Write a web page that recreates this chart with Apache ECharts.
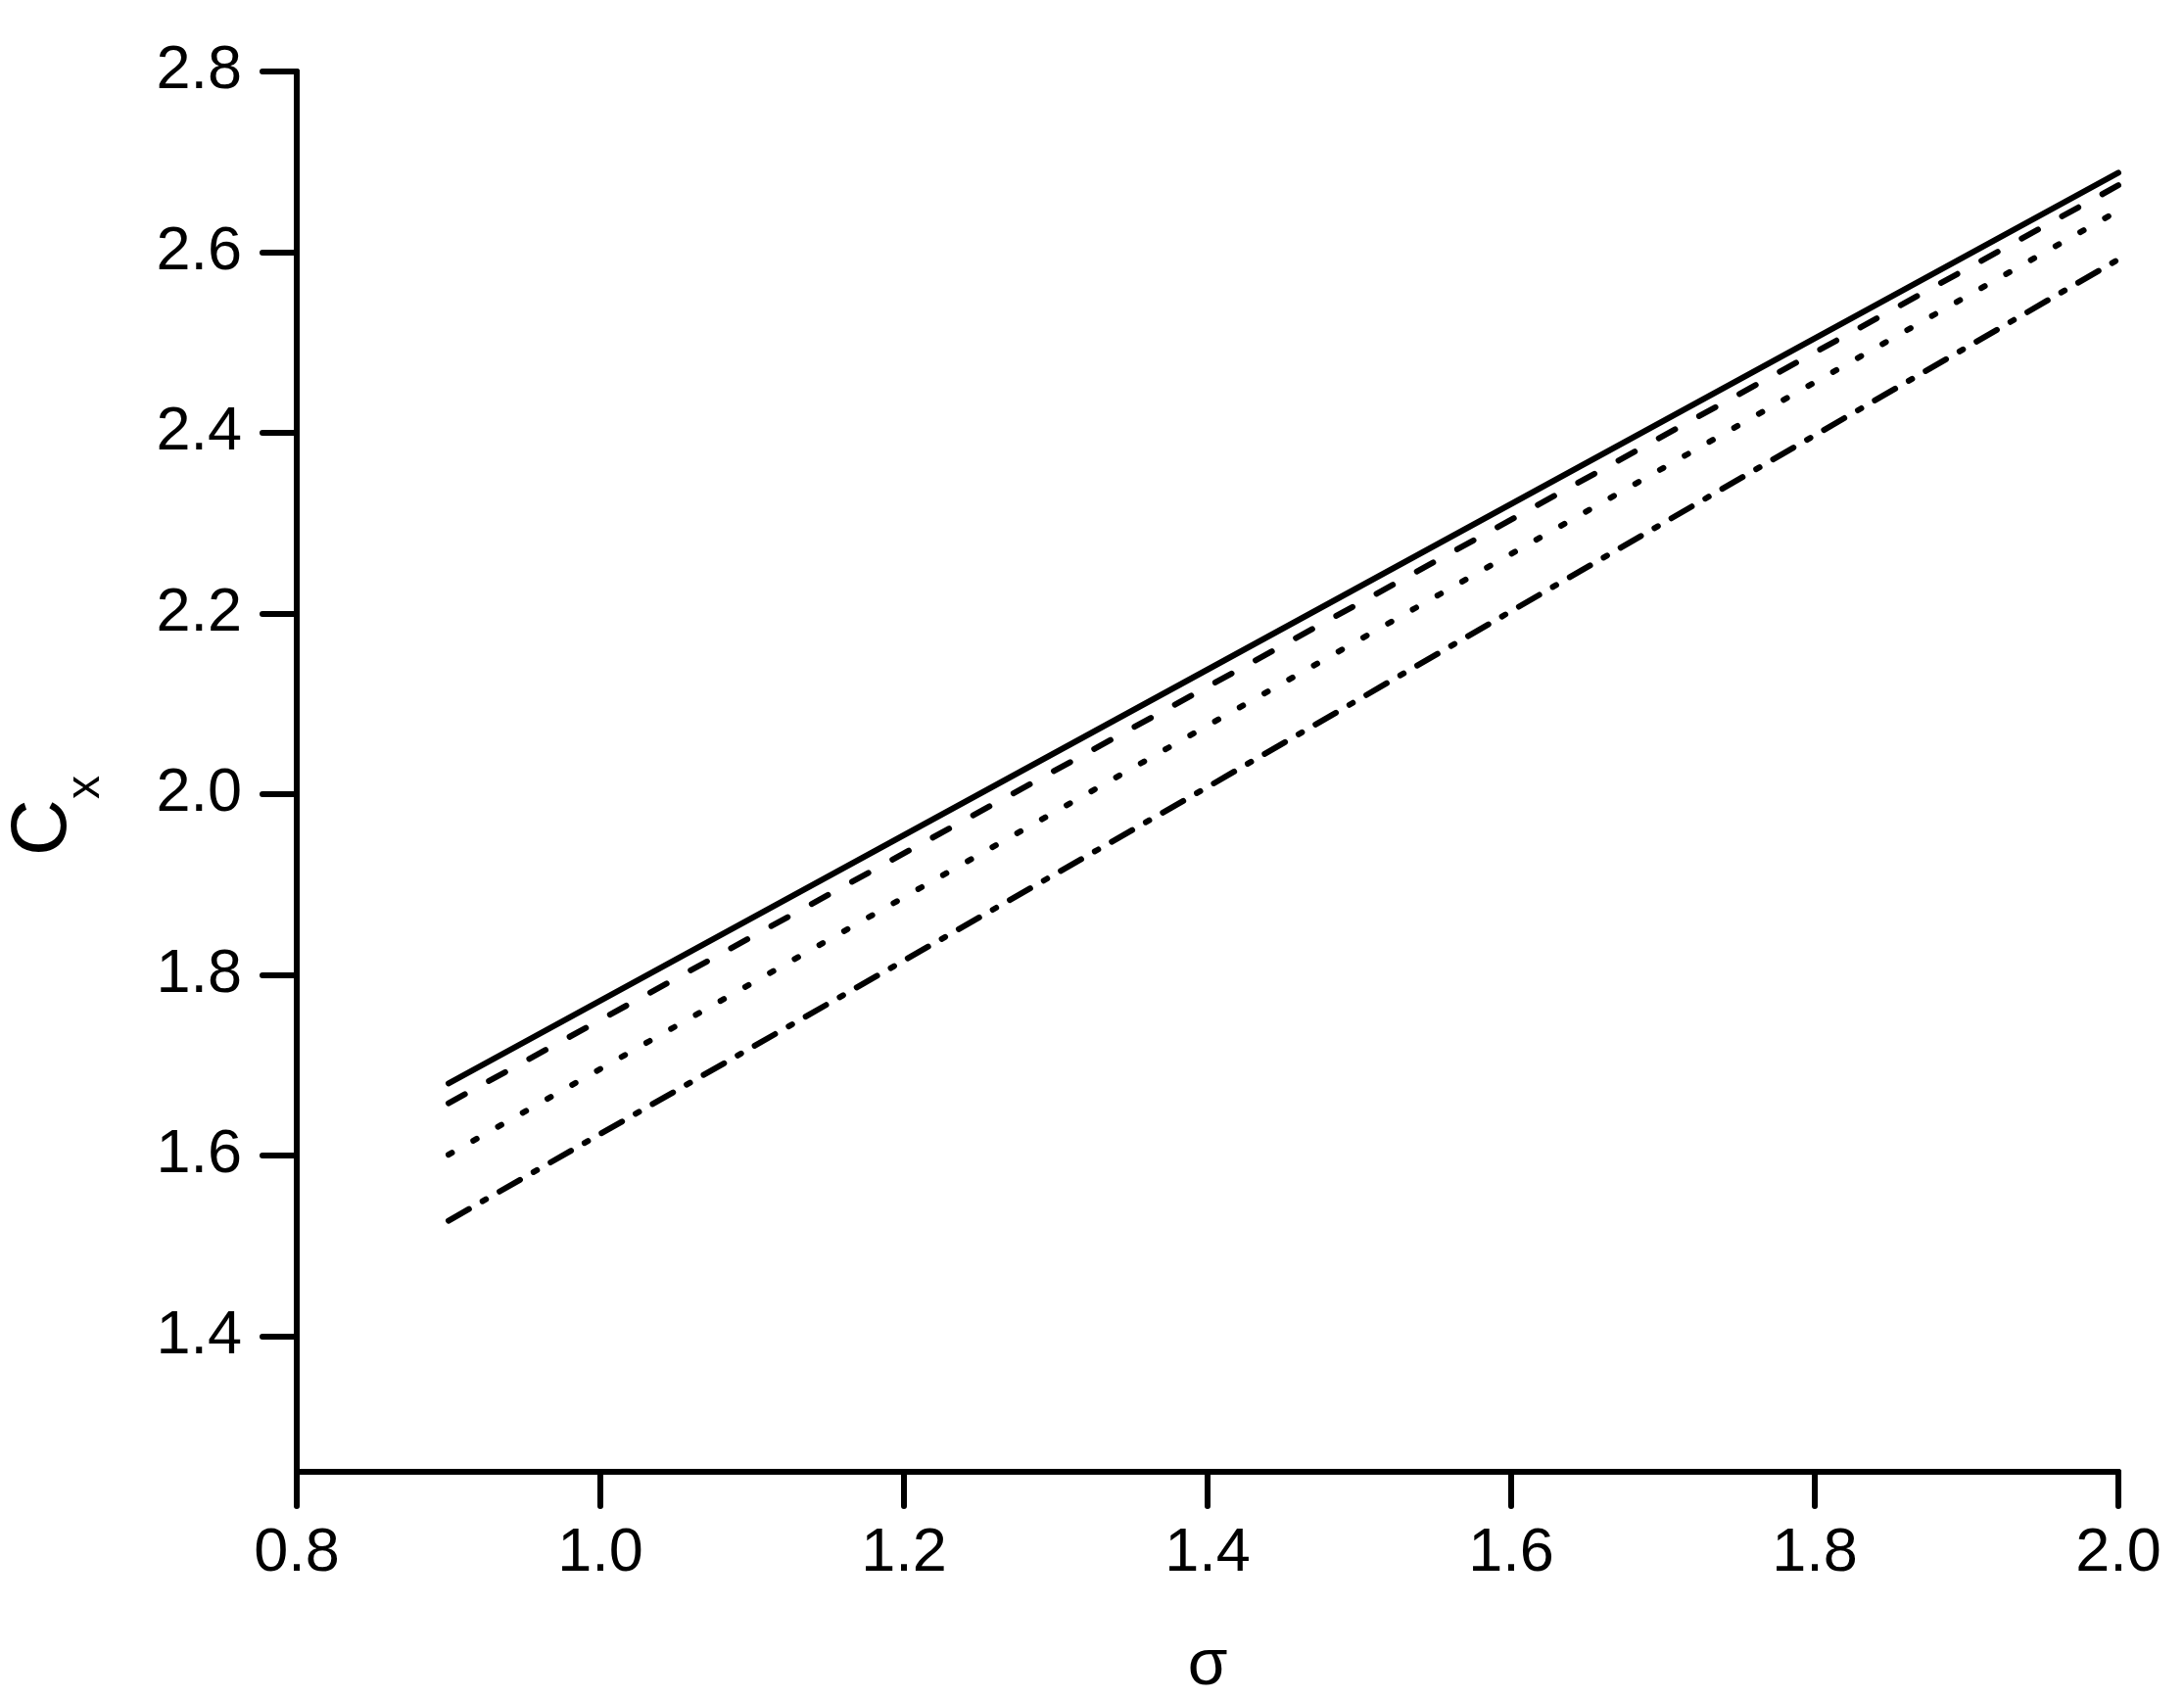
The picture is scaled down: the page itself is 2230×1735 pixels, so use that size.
<!DOCTYPE html>
<html>
<head>
<meta charset="utf-8">
<script src="https://cdn.jsdelivr.net/npm/echarts@6/dist/echarts.min.js"></script>
<style>
  html, body { margin: 0; padding: 0; background: #fff; }
  #chart { width: 2230px; height: 1735px; }
</style>
</head>
<body>
<div id="chart"></div>
<script>
// sigma values where the curves were read
var sigma = [0.9, 1.4, 2.0]
// C_x for the four curves
var cxSolid = [1.680, 2.138, 2.688]
var cxDashed = [1.658, 2.119, 2.674]
var cxDotted = [1.601, 2.076, 2.646]
var cxDashDot = [1.528, 2.008, 2.592]
// y tick labels
var yTicks = [1.4, 1.6, 1.8, 2.0, 2.2, 2.4, 2.6, 2.8]

var font = 'Liberation Sans'

function pairs(ys) {
  return sigma.map(function (x, i) { return [x, ys[i]] })
}

function line(name, ys, dash) {
  return {
    name: name,
    type: 'line',
    data: pairs(ys),
    symbol: 'none',
    silent: true,
    lineStyle: { color: '#000', width: 6, type: dash, cap: 'round' }
  }
}

var chart = echarts.init(document.getElementById('chart'))
chart.setOption({
  animation: false,
  backgroundColor: '#fff',
  grid: { left: 303, right: 67, top: 73, bottom: 232, outerBoundsMode: 'none' },
  xAxis: {
    type: 'value',
    min: 0.8,
    max: 2.0,
    interval: 0.2,
    name: 'σ',
    nameLocation: 'middle',
    nameGap: 166,
    nameTextStyle: { fontFamily: font, fontSize: 66, color: '#000' },
    axisLine: { onZero: false, lineStyle: { color: '#000', width: 6 } },
    axisTick: { length: 35, lineStyle: { color: '#000', width: 6, cap: 'round' } },
    axisLabel: {
      margin: 52,
      fontFamily: font,
      fontSize: 63,
      color: '#000',
      formatter: function (v) { return v.toFixed(1) }
    },
    splitLine: { show: false }
  },
  yAxis: {
    type: 'value',
    min: 1.25,
    max: 2.8,
    name: '{c|C}{s|x}',
    nameLocation: 'middle',
    nameRotate: 90,
    nameGap: 191,
    nameTextStyle: {
      color: '#000',
      padding: [0, 90, 0, 0],
      rich: {
        c: { fontFamily: font, fontSize: 80, color: '#000', verticalAlign: 'top' },
        s: { fontFamily: font, fontSize: 48, color: '#000', verticalAlign: 'top', padding: [59, 0, 0, 0] }
      }
    },
    axisLine: { onZero: false, lineStyle: { color: '#000', width: 6 } },
    axisTick: { length: 35, customValues: yTicks, lineStyle: { color: '#000', width: 6, cap: 'round' } },
    axisLabel: {
      margin: 56,
      customValues: yTicks,
      fontFamily: font,
      fontSize: 63,
      color: '#000',
      formatter: function (v) { return v.toFixed(1) }
    },
    splitLine: { show: false }
  },
  series: [
    line('a', cxSolid, 'solid'),
    line('b', cxDashed, [19, 28]),
    line('c', cxDotted, [4, 25]),
    line('d', cxDashDot, [24, 16, 4, 16])
  ]
})
</script>
</body>
</html>
